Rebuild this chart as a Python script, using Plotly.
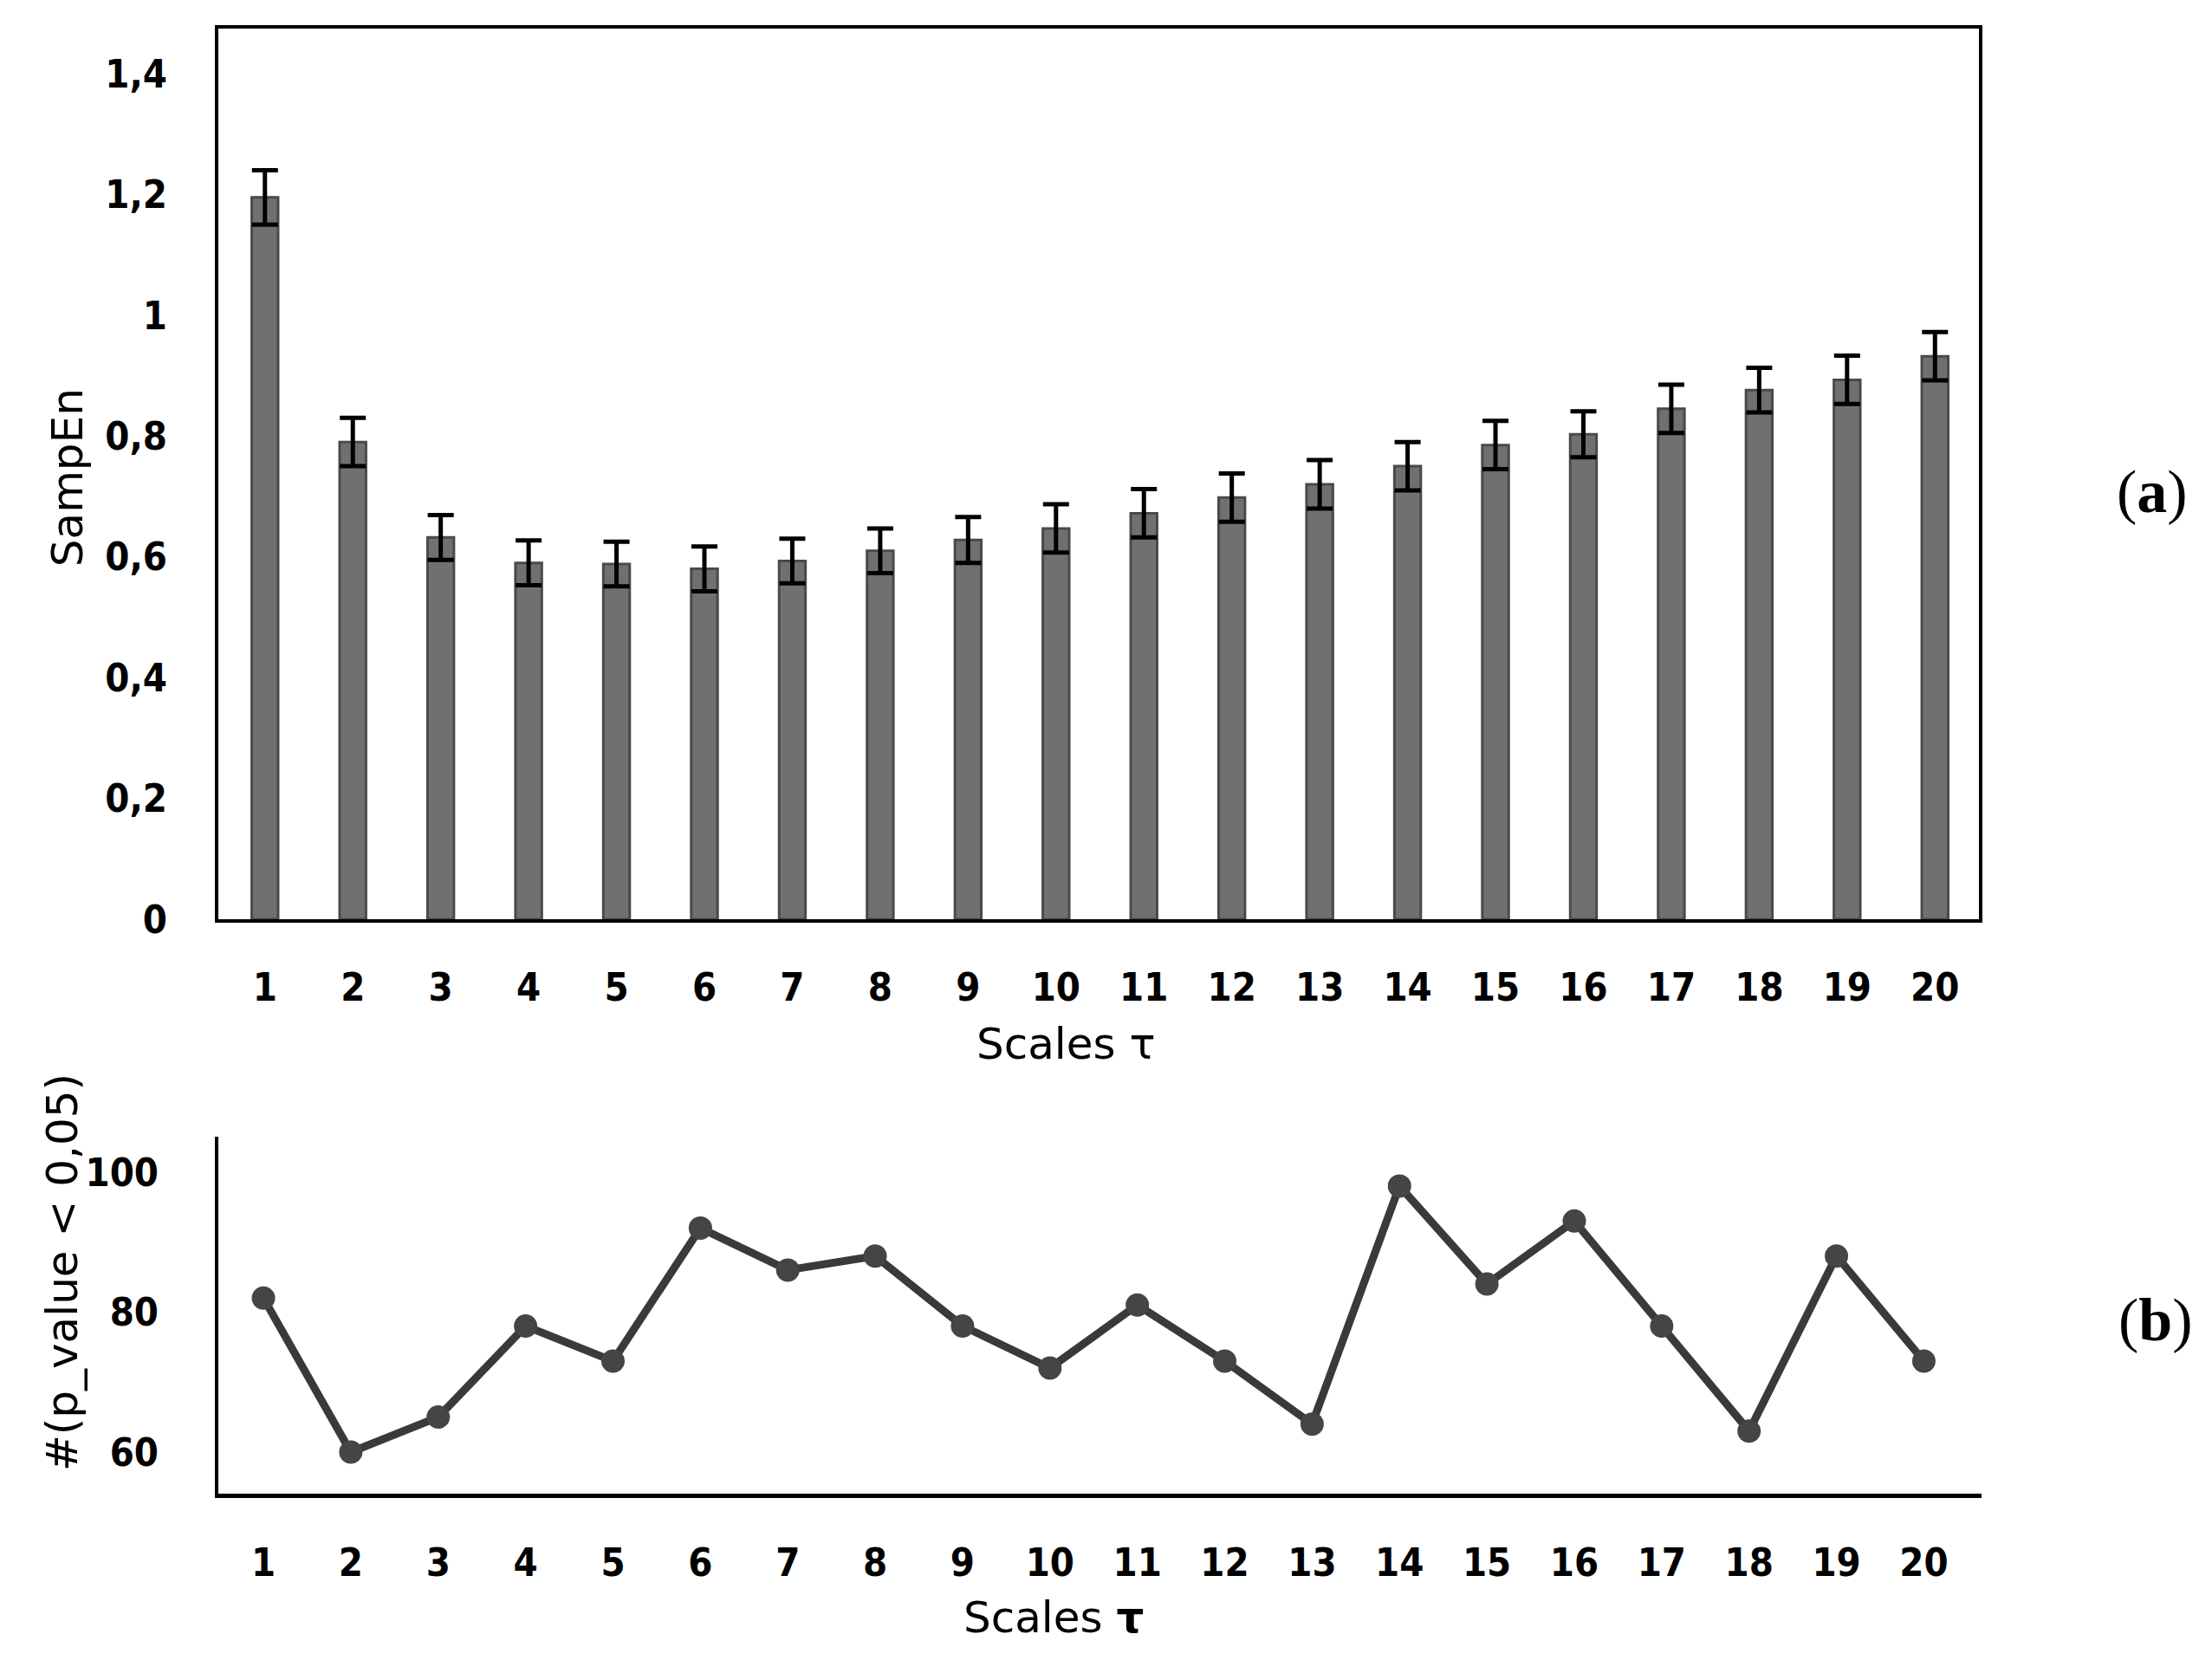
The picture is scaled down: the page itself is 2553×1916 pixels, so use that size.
import plotly.graph_objects as go

# ---- data ----
scales = list(range(1, 21))
scale_labels = [str(s) for s in scales]
sampen_mean = [1.195, 0.79, 0.632, 0.59, 0.588, 0.58, 0.593, 0.61, 0.628, 0.647,
               0.672, 0.698, 0.72, 0.75, 0.785, 0.803, 0.845, 0.876, 0.893, 0.932]
sampen_err = [0.045, 0.04, 0.037, 0.037, 0.037, 0.037, 0.037, 0.037, 0.038, 0.04,
              0.04, 0.04, 0.04, 0.04, 0.04, 0.038, 0.04, 0.037, 0.04, 0.04]
pcount = [82, 60, 65, 78, 73, 92, 86, 88, 78, 72, 81, 73, 64, 98, 84, 93, 78, 63, 88, 73]
y1_ticks = [0, 0.2, 0.4, 0.6, 0.8, 1.0, 1.2, 1.4]
y2_ticks = [60, 80, 100]

W, H = 2553, 1916

def px(x):
    return x / W

def py(y):
    return 1 - y / H

fig = go.Figure()

fig.add_trace(go.Bar(
    x=scales, y=sampen_mean, width=0.3,
    marker=dict(color="#707070", line=dict(color="#4a4a4a", width=3)),
    error_y=dict(type="data", array=sampen_err, color="black", thickness=5, width=15),
    xaxis="x", yaxis="y", showlegend=False,
))

fig.add_trace(go.Scatter(
    x=scales, y=pcount, mode="lines+markers",
    line=dict(color="#3a3a3a", width=9),
    marker=dict(color="#454545", size=27),
    xaxis="x2", yaxis="y2", showlegend=False,
))

tickfont = dict(family="DejaVu Sans Condensed, DejaVu Sans", size=45, color="black", weight="bold")
titlefont = dict(family="DejaVu Sans", size=50, color="black")

fig.update_layout(
    width=W, height=H,
    margin=dict(l=0, r=0, t=0, b=0),
    paper_bgcolor="white", plot_bgcolor="white",
    separators=", ",
    xaxis=dict(
        domain=[px(244), px(2276)], range=[0.47, 20.5],
        tickvals=scales, ticktext=scale_labels,
        showline=True, mirror=True, linecolor="black", linewidth=4,
        ticks="outside", ticklen=36, tickcolor="rgba(0,0,0,0)",
        showgrid=False, zeroline=False, tickfont=tickfont, anchor="y",
    ),
    yaxis=dict(
        domain=[py(1068), py(25)], range=[0, 1.475],
        tickvals=y1_ticks,
        showline=True, mirror=True, linecolor="black", linewidth=4,
        ticks="outside", ticklen=46, tickcolor="rgba(0,0,0,0)",
        showgrid=False, zeroline=False, tickfont=tickfont, anchor="x",
    ),
    xaxis2=dict(
        domain=[px(244), px(2279)], range=[0.484, 20.66],
        tickvals=scales, ticktext=scale_labels,
        showline=True, linecolor="black", linewidth=5,
        ticks="outside", ticklen=36, tickcolor="rgba(0,0,0,0)",
        showgrid=False, zeroline=False, tickfont=tickfont, anchor="y2",
    ),
    yaxis2=dict(
        domain=[py(1741), py(1323)], range=[54, 105],
        tickvals=y2_ticks,
        showline=True, linecolor="black", linewidth=4,
        ticks="outside", ticklen=56, tickcolor="rgba(0,0,0,0)",
        showgrid=False, zeroline=False, tickfont=tickfont, anchor="x2",
    ),
    annotations=[
        dict(text="SampEn", x=px(70), y=py(551), xref="paper", yref="paper",
             textangle=-90, showarrow=False, font=titlefont,
             xanchor="center", yanchor="middle"),
        dict(text="Scales τ", x=px(1222), y=py(1214), xref="paper", yref="paper",
             showarrow=False, font=titlefont, xanchor="center", yanchor="middle"),
        dict(text="#(p_value < 0,05)", x=px(64), y=py(1482), xref="paper", yref="paper",
             textangle=-90, showarrow=False, font=titlefont,
             xanchor="center", yanchor="middle"),
        dict(text="Scales <b>τ</b>", x=px(1208), y=py(1886), xref="paper", yref="paper",
             showarrow=False, font=titlefont, xanchor="center", yanchor="middle"),
        dict(text="(<b>a</b>)", x=px(2476), y=py(568), xref="paper", yref="paper",
             showarrow=False, font=dict(family="Liberation Serif", size=70, color="black"),
             xanchor="center", yanchor="middle"),
        dict(text="(<b>b</b>)", x=px(2480), y=py(1537), xref="paper", yref="paper",
             showarrow=False, font=dict(family="Liberation Serif", size=70, color="black"),
             xanchor="center", yanchor="middle"),
    ],
)

fig.write_html("out.html")
